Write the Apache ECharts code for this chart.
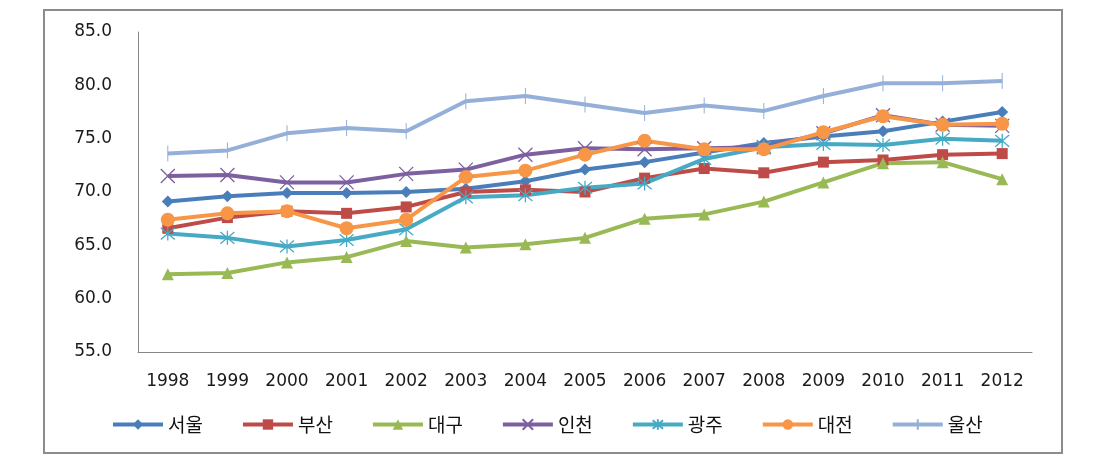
<!DOCTYPE html>
<html>
<head>
<meta charset="utf-8">
<script src="https://cdn.jsdelivr.net/npm/echarts@6/dist/echarts.min.js"></script>
<style>
html,body{margin:0;padding:0;background:#fff;}
#chart{width:1101px;height:467px;}
</style>
</head>
<body>
<div id="chart"></div>
<script>
const years = ['1998','1999','2000','2001','2002','2003','2004','2005','2006','2007','2008','2009','2010','2011','2012'];
const seoul   = [69.1, 69.6, 69.9, 69.9, 70.0, 70.3, 71.0, 72.1, 72.8, 73.7, 74.6, 75.2, 75.7, 76.6, 77.5];
const busan   = [66.6, 67.6, 68.2, 68.0, 68.6, 70.0, 70.2, 70.0, 71.3, 72.2, 71.8, 72.8, 73.0, 73.5, 73.6];
const daegu   = [62.3, 62.4, 63.4, 63.9, 65.4, 64.8, 65.1, 65.7, 67.5, 67.9, 69.1, 70.9, 72.7, 72.8, 71.2];
const incheon = [71.5, 71.6, 70.9, 70.9, 71.7, 72.1, 73.5, 74.1, 74.0, 74.1, 74.2, 75.5, 77.2, 76.3, 76.2];
const gwangju = [66.1, 65.7, 64.9, 65.5, 66.5, 69.5, 69.7, 70.4, 70.8, 73.1, 74.2, 74.5, 74.4, 75.0, 74.8];
const daejeon = [67.4, 68.0, 68.2, 66.6, 67.4, 71.4, 72.0, 73.5, 74.8, 74.0, 74.0, 75.6, 77.1, 76.3, 76.4];
const ulsan   = [73.6, 73.9, 75.5, 76.0, 75.7, 78.5, 79.0, 78.2, 77.4, 78.1, 77.6, 79.0, 80.2, 80.2, 80.4];
const seriesNames = ['서울','부산','대구','인천','광주','대전','울산'];

const colors = ['#4A7EBB','#BE4B48','#98B954','#7D60A0','#46AAC5','#F79646','#95B0D8'];
const dataList = [seoul, busan, daegu, incheon, gwangju, daejeon, ulsan];
const symbols = [
  'diamond',
  'rect',
  'triangle',
  'path://M0,0L10,10M10,0L0,10',
  'path://M0,0L10,10M10,0L0,10M5,-1L5,11',
  'circle',
  'path://M0,0L0.01,0M5,0L5,10M10,10L9.99,10'
];
const sizes = [12, 11, 12, 14, 14, 14, [10,16]];
const strokeSym = [false,false,false,true,true,false,true];

const chart = echarts.init(document.getElementById('chart'));
const series = seriesNames.map((n,i)=>({
  name: n,
  type: 'line',
  data: dataList[i],
  symbol: symbols[i],
  symbolSize: sizes[i],
  showAllSymbol: true,
  lineStyle: {color: colors[i], width: 4},
  itemStyle: strokeSym[i]
    ? {color: colors[i], borderColor: colors[i], borderWidth: 1.3}
    : {color: colors[i], borderColor: colors[i], borderWidth: 0},
  emphasis: {disabled: true},
  animation: false
}));

chart.setOption({
  backgroundColor: '#ffffff',
  animation: false,
  graphic: [{
    type: 'rect',
    shape: {x: 44, y: 10, width: 1018, height: 443},
    style: {fill: 'none', stroke: '#8c8c8c', lineWidth: 2},
    silent: true
  }],
  grid: {left: 138, right: 69, top: 32, bottom: 115, containLabel: false},
  legend: {
    left: 106, top: 410,
    itemWidth: 50, itemHeight: 13, itemGap: 38,
    lineStyle: {width: 4},
    textStyle: {fontFamily: 'Noto Sans CJK KR', fontSize: 19, color: '#111'},
    data: seriesNames
  },
  xAxis: {
    type: 'category',
    data: years,
    boundaryGap: true,
    axisLine: {show: true, lineStyle: {color: '#868686', width: 1}},
    axisTick: {show: false},
    axisLabel: {fontFamily: 'DejaVu Sans', fontSize: 17, color: '#1a1a1a', margin: 21, interval: 0}
  },
  yAxis: {
    type: 'value',
    min: 55, max: 85, interval: 5,
    axisLine: {show: true, lineStyle: {color: '#868686', width: 1}},
    axisTick: {show: false},
    splitLine: {show: false},
    axisLabel: {fontFamily: 'DejaVu Sans', fontSize: 17, color: '#1a1a1a', margin: 26,
      formatter: v => v.toFixed(1)}
  },
  series: series
});
</script>
</body>
</html>
